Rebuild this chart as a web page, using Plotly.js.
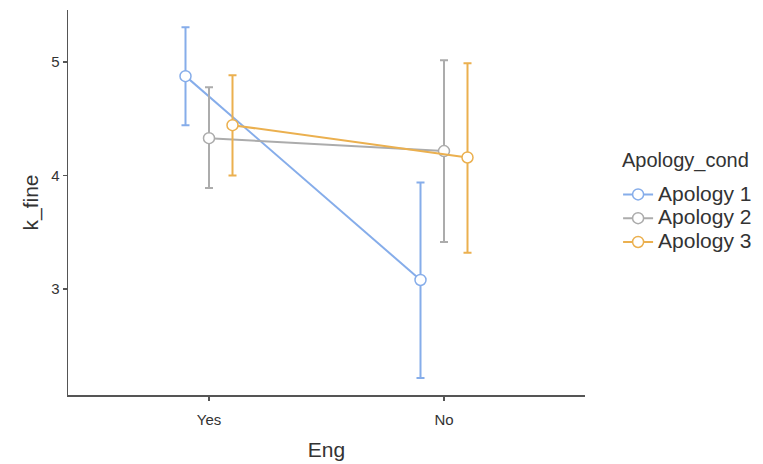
<!DOCTYPE html>
<html>
<head>
<meta charset="utf-8">
<script src="https://cdn.plot.ly/plotly-3.0.1.min.js"></script>
<style>html,body{margin:0;padding:0;background:#fff;}#chart{width:763px;height:464px;}</style>
</head>
<body>
<div id="chart"></div>
<script>
const categories = ["Yes", "No"];
const groups = ["Apology 1", "Apology 2", "Apology 3"];
const means = [[4.877, 3.08], [4.33, 4.216], [4.445, 4.16]];
const upper = [[5.308, 3.94], [4.78, 5.018], [4.885, 4.99]];
const lower = [[4.445, 2.216], [3.89, 3.414], [4.0, 3.32]];
const colors = ["#86ADEA", "#ACACAC", "#EBB04F"];
const dodge = [-0.1, 0, 0.1];
const legendTitle = "Apology_cond";

const traces = groups.map((g, i) => ({
  type: "scatter",
  mode: "lines+markers",
  name: '<span style="font-size:21px">' + g + '</span>',
  x: categories.map((c, j) => j + 1 + dodge[i]),
  y: means[i],
  line: {color: colors[i], width: 2},
  marker: {color: "#ffffff", size: 11, line: {color: colors[i], width: 1.5}},
  error_y: {
    type: "data",
    symmetric: false,
    array: means[i].map((m, j) => upper[i][j] - m),
    arrayminus: means[i].map((m, j) => m - lower[i][j]),
    color: colors[i],
    thickness: 2,
    width: 4
  }
}));

const layout = {
  width: 763, height: 464,
  margin: {l: 68, r: 178, t: 10, b: 69, autoexpand: false},
  paper_bgcolor: "#fff", plot_bgcolor: "#fff",
  font: {family: "Liberation Sans, Arial, sans-serif", color: "#333"},
  xaxis: {
    range: [0.4, 2.6],
    tickvals: [1, 2], ticktext: categories,
    showgrid: false, zeroline: false,
    showline: true, linecolor: "#555", linewidth: 1.5,
    ticks: "outside", ticklen: 4, tickcolor: "#555", tickwidth: 1.5,
    ticklabelstandoff: 6,
    tickfont: {size: 15, color: "#333"},
    title: {text: "Eng", font: {size: 21, color: "#333"}, standoff: 16}
  },
  yaxis: {
    range: [2.066, 5.46],
    tickvals: [3, 4, 5],
    showgrid: false, zeroline: false,
    showline: true, linecolor: "#555", linewidth: 1.5,
    ticks: "outside", ticklen: 4, tickcolor: "#555", tickwidth: 1.5,
    tickfont: {size: 15, color: "#333"},
    title: {text: "k_fine", font: {size: 21, color: "#333"}, standoff: 7}
  },
  showlegend: true,
  legend: {
    x: 1.064, xanchor: "left", y: 0.565, yanchor: "top",
    font: {size: 16, color: "#333"},
    tracegroupgap: 0, itemwidth: 30
  },
  annotations: [{
    text: legendTitle, showarrow: false,
    xref: "paper", yref: "paper", x: 1.0677, y: 0.61,
    xanchor: "left", yanchor: "middle",
    font: {size: 20, color: "#333"}
  }]
};

Plotly.newPlot("chart", traces, layout, {displayModeBar: false, staticPlot: true});
</script>
</body>
</html>
